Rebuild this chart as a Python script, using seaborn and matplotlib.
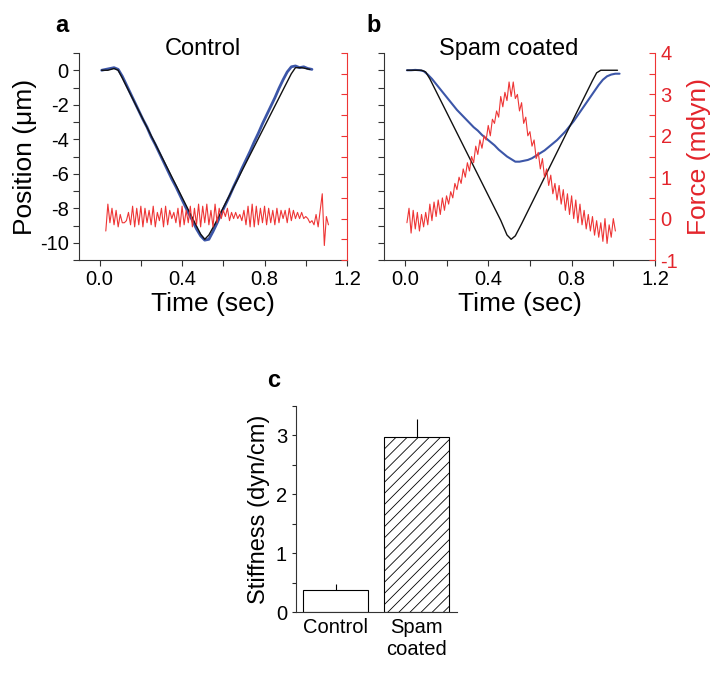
import numpy as np
import pandas as pd
import seaborn as sns
import matplotlib.pyplot as plt
from matplotlib.ticker import MultipleLocator

# ---- data ----
# black: commanded stage position (breakpoints)
cmd_a_t = [0.01, 0.04, 0.07, 0.09, 0.11, 0.46, 0.49, 0.51, 0.53, 0.56, 0.90, 0.93, 0.95, 0.98, 1.02]
cmd_a_pos = [0.0, 0.0, 0.1, 0.0, -0.45, -8.8, -9.5, -9.8, -9.55, -8.9, -0.9, -0.2, 0.15, 0.15, 0.05]
cmd_b_t = [0.01, 0.08, 0.10, 0.12, 0.46, 0.49, 0.51, 0.53, 0.56, 0.90, 0.92, 0.94, 1.02]
cmd_b_pos = [0.0, 0.0, -0.1, -0.5, -8.7, -9.55, -9.8, -9.6, -8.9, -0.6, -0.15, 0.0, 0.0]

# blue: measured bead position, sampled every 0.02 s from 0.01 s
bead_t = np.linspace(0.01, 1.03, 52)
bead_a = [0.0, 0.05, 0.1, 0.15, 0.05, -0.35, -0.85, -1.35, -1.85, -2.35,
          -2.85, -3.3, -3.85, -4.3, -4.8, -5.3, -5.8, -6.3, -6.75, -7.25,
          -7.75, -8.25, -8.7, -9.2, -9.6, -9.85, -9.8, -9.35, -8.85, -8.3,
          -7.8, -7.3, -6.75, -6.25, -5.7, -5.2, -4.7, -4.15, -3.65, -3.1,
          -2.6, -2.1, -1.6, -1.05, -0.55, -0.1, 0.2, 0.25, 0.15, 0.2,
          0.1, 0.05]
bead_b = [0.0, 0.0, 0.02, 0.0, -0.05, -0.25, -0.5, -0.8, -1.1, -1.4,
          -1.7, -2.0, -2.3, -2.55, -2.8, -3.05, -3.3, -3.5, -3.75, -3.95,
          -4.15, -4.35, -4.6, -4.8, -5.0, -5.15, -5.3, -5.3, -5.25, -5.2,
          -5.1, -4.95, -4.8, -4.65, -4.45, -4.25, -4.05, -3.8, -3.55, -3.25,
          -2.95, -2.6, -2.25, -1.9, -1.55, -1.2, -0.85, -0.55, -0.35, -0.25,
          -0.2, -0.2]

# red: force, sampled every 0.01 s
force_a_t = np.linspace(0.03, 1.11, 109)
force_a = [-0.3, 0.35, -0.1, 0.25, -0.15, 0.2, -0.2, 0.1, -0.1, -0.1,
           -0.05, 0.15, -0.15, 0.3, -0.2, 0.25, -0.15, 0.3, -0.2, 0.25,
           -0.1, 0.2, -0.15, 0.3, -0.2, 0.15, -0.05, 0.25, -0.2, 0.3,
           -0.15, 0.2, 0.0, 0.15, -0.1, 0.25, -0.2, 0.3, -0.15, 0.2,
           -0.1, 0.3, -0.2, 0.25, -0.15, 0.35, -0.2, 0.3, -0.1, 0.35,
           -0.15, 0.2, -0.2, 0.35, -0.1, 0.25, 0.0, 0.2, 0.05, 0.25,
           -0.05, 0.15, 0.0, 0.15, 0.0, 0.1, -0.05, 0.2, -0.15, 0.3,
           -0.2, 0.35, -0.2, 0.3, -0.15, 0.25, -0.1, 0.3, -0.15, 0.25,
           -0.1, 0.2, -0.15, 0.25, -0.1, 0.2, 0.0, 0.2, -0.1, 0.25,
           -0.05, 0.2, 0.0, 0.15, 0.0, 0.15, 0.0, 0.05, 0.0, -0.1,
           -0.05, -0.15, 0.1, -0.2, 0.2, 0.6, -0.65, 0.05, -0.15]
force_b_t = np.linspace(0.01, 1.01, 101)
force_b = [-0.1, 0.25, -0.35, 0.2, -0.25, 0.15, -0.3, 0.1, -0.2, 0.15,
           -0.15, 0.35, -0.05, 0.4, 0.05, 0.45, 0.1, 0.5, 0.2, 0.55,
           0.35, 0.65, 0.5, 0.85, 0.7, 1.0, 0.85, 1.2, 1.0, 1.35,
           1.15, 1.5, 1.35, 1.75, 1.55, 1.9, 1.7, 2.0, 1.9, 2.25,
           2.0, 2.4, 2.3, 2.6, 2.45, 2.95, 2.7, 3.05, 2.85, 3.3,
           2.95, 3.3, 2.9, 3.0, 2.6, 2.8, 2.3, 2.45, 2.0, 2.1,
           1.75, 1.9, 1.45, 1.6, 1.2, 1.45, 1.0, 1.2, 0.8, 1.05,
           0.6, 0.85, 0.45, 0.8, 0.35, 0.7, 0.2, 0.6, 0.1, 0.55,
           0.0, 0.45, -0.1, 0.35, -0.15, 0.2, -0.25, 0.1, -0.3, 0.05,
           -0.4, -0.05, -0.45, -0.1, -0.55, 0.0, -0.6, -0.15, -0.45, 0.0,
           -0.3]

groups = ['Control', 'Spam\ncoated']
stiffness = [0.37, 2.97]
stiffness_err = [0.10, 0.31]

BLACK = '#111111'
BLUE = '#3c56a8'
RED = '#ee3535'
FORCE_RED = '#e3242b'

sns.set_theme(style='ticks')
plt.rcParams['font.family'] = ['Liberation Sans', 'DejaVu Sans']
plt.rcParams['axes.unicode_minus'] = False
plt.rcParams['text.color'] = 'black'
plt.rcParams['axes.labelcolor'] = 'black'
plt.rcParams['xtick.labelcolor'] = 'black'
plt.rcParams['ytick.labelcolor'] = 'black'
plt.rcParams['hatch.color'] = '#444444'
plt.rcParams['hatch.linewidth'] = 0.6

fig = plt.figure(figsize=(7.25, 6.76), dpi=100)


def trace_panel(rect, cmd_t, cmd_pos, bead, bead_lw, force_t, force, title, letter,
                show_left, show_right):
    ax = fig.add_axes(rect)
    sns.lineplot(x=bead_t, y=bead, ax=ax, color=BLUE, lw=bead_lw, estimator=None)
    sns.lineplot(x=cmd_t, y=cmd_pos, ax=ax, color=BLACK, lw=1.0, estimator=None)
    ax.set_xlim(-0.1, 1.2)
    ax.set_ylim(-11, 1)
    ax.xaxis.set_minor_locator(MultipleLocator(0.2))
    ax.yaxis.set_major_locator(MultipleLocator(2))
    ax.yaxis.set_minor_locator(MultipleLocator(1))
    ax.set_xticks([0.0, 0.4, 0.8, 1.2], ['0.0', '0.4', '0.8', '1.2'])
    ax.tick_params(which='both', direction='out', length=4, labelsize=14.5, width=0.8,
                   color='#333333')
    ax.set_xlabel('Time (sec)', fontsize=19, labelpad=2)
    if show_left:
        ax.set_ylabel('Position (\u03bcm)', fontsize=19, labelpad=2)
    else:
        ax.set_ylabel('')
        ax.tick_params(axis='y', labelleft=False)
    for s in ['left', 'bottom']:
        ax.spines[s].set_linewidth(0.8)
        ax.spines[s].set_color('#333333')
    ax.spines['top'].set_visible(False)
    ax.spines['right'].set_visible(False)

    ax2 = ax.twinx()
    sns.lineplot(x=force_t, y=force, ax=ax2, color=RED, lw=0.8, estimator=None)
    ax2.set_ylim(-1, 4)
    ax2.yaxis.set_major_locator(MultipleLocator(1))
    ax2.yaxis.set_minor_locator(MultipleLocator(0.5))
    for s in ['top', 'left', 'bottom']:
        ax2.spines[s].set_visible(False)
    ax2.spines['right'].set_color(RED)
    ax2.spines['right'].set_linewidth(0.8)
    ax2.tick_params(axis='y', which='both', direction='in', length=4, width=0.8, color=RED,
                    labelcolor=FORCE_RED, labelsize=14.5, pad=4)
    if show_right:
        ax2.set_ylabel('Force (mdyn)', fontsize=19, color=FORCE_RED, labelpad=6)
    else:
        ax2.set_ylabel('')
        ax2.tick_params(axis='y', labelright=False)

    # title sits on the top edge, centred over t = 0.5 s
    ax.text(0.5, 0.99, title, transform=ax.get_xaxis_transform(), ha='center',
            va='baseline', fontsize=17)
    fig.text(letter[1] / 725, 1 - letter[2] / 676, letter[0], fontsize=17, fontweight='bold',
             ha='left', va='baseline')
    return ax


trace_panel([79 / 725, 1 - 260 / 676, 268 / 725, 207 / 676], cmd_a_t, cmd_a_pos, bead_a, 2.0,
            force_a_t, force_a, 'Control', ('a', 55, 32), True, False)
trace_panel([384 / 725, 1 - 260 / 676, 271 / 725, 207 / 676], cmd_b_t, cmd_b_pos, bead_b, 1.5,
            force_b_t, force_b, 'Spam coated', ('b', 366, 32), False, True)

# ---- panel c ----
axc = fig.add_axes([296 / 725, 1 - 612 / 676, 161 / 725, 206 / 676])
stiff_df = pd.DataFrame({'group': groups, 'stiffness': stiffness})
sns.barplot(data=stiff_df, x='group', y='stiffness', ax=axc, color='white',
            edgecolor='black', linewidth=0.8, width=0.8, errorbar=None, saturation=1)
axc.patches[1].set_hatch('///')
axc.errorbar(x=[0, 1], y=stiffness, yerr=[[0, 0], stiffness_err], fmt='none',
             ecolor='black', elinewidth=0.8, capsize=0)
axc.set_xlim(-0.49, 1.5)
axc.set_ylim(0, 3.5)
axc.yaxis.set_major_locator(MultipleLocator(1))
axc.yaxis.set_minor_locator(MultipleLocator(0.5))
axc.tick_params(axis='y', which='both', direction='out', length=3, width=0.8, labelsize=14.5)
axc.tick_params(axis='x', length=0, labelsize=14.5, pad=4)
axc.set_xlabel('')
axc.set_ylabel('Stiffness (dyn/cm)', fontsize=17, labelpad=4)
axc.spines['top'].set_visible(False)
axc.spines['right'].set_visible(False)
for s in ['left', 'bottom']:
    axc.spines[s].set_linewidth(0.8)
    axc.spines[s].set_color('#333333')
fig.text(267 / 725, 1 - 387 / 676, 'c', fontsize=17, fontweight='bold', ha='left', va='baseline')

fig.savefig('out.png', dpi=100, facecolor='white')
